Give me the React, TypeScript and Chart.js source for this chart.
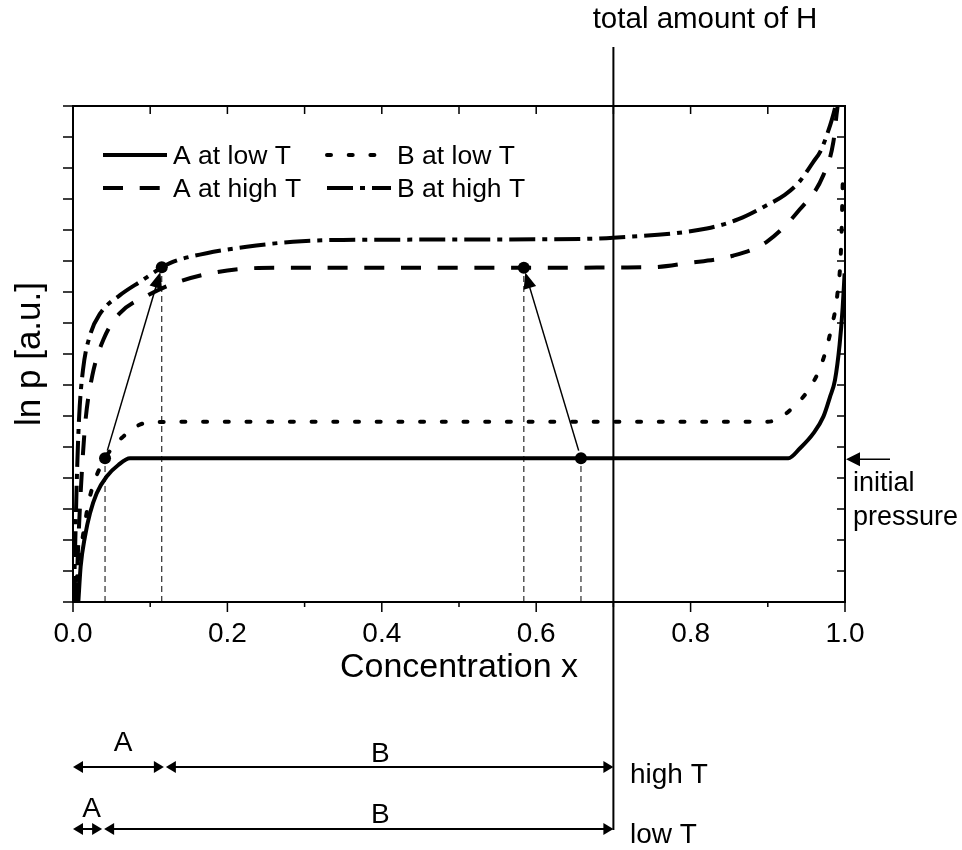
import React, { useEffect, useRef } from 'react';
import { Chart, registerables } from 'chart.js';
Chart.register(...registerables);

// ---- data ----
const A_LOW_X = [0.0069, 0.0099, 0.0155, 0.022, 0.0307, 0.0436, 0.0587, 0.0738, 0.3, 0.6, 0.9266, 0.9417, 0.959, 0.972, 0.9806, 0.987, 0.993, 0.997, 0.9995];
const A_LOW_Y = [0, 1.14, 2.11, 2.86, 3.51, 4.05, 4.42, 4.635, 4.635, 4.635, 4.635, 4.96, 5.44, 5.98, 6.62, 7.16, 8.3, 9.5, 10.6];

const B_LOW_X = [0.002, 0.006, 0.0113, 0.0155, 0.0198, 0.0285, 0.0415, 0.063, 0.093, 0.12, 0.15, 0.5, 0.9, 0.915, 0.9266, 0.9525, 0.97, 0.982, 0.99, 0.995, 0.9975];
const B_LOW_Y = [0, 1.0, 1.89, 2.54, 3.18, 3.94, 4.635, 5.29, 5.77, 5.81, 5.815, 5.815, 5.815, 5.93, 6.14, 6.84, 7.7, 8.8, 9.9, 11.5, 14.0];

const A_HIGH_X = [0.004, 0.007, 0.011, 0.016, 0.025, 0.04, 0.06, 0.0975, 0.1256, 0.168, 0.216, 0.264, 0.5, 0.75, 0.795, 0.855, 0.8986, 0.941, 0.972, 0.985, 0.989, 0.992];
const A_HIGH_Y = [0, 2, 4, 5.8, 7.3, 8.5, 9.3, 9.9, 10.23, 10.55, 10.74, 10.78, 10.78, 10.8, 10.93, 11.17, 11.62, 12.65, 13.77, 14.85, 15.71, 16.3];

const B_HIGH_X = [0.001, 0.003, 0.005, 0.008, 0.013, 0.022, 0.035, 0.0609, 0.0868, 0.1256, 0.173, 0.225, 0.285, 0.35, 0.62, 0.7, 0.821, 0.862, 0.8986, 0.922, 0.941, 0.959, 0.968, 0.978, 0.987, 0.99];
const B_HIGH_Y = [0, 2, 4, 6, 7.5, 8.6, 9.3, 9.9, 10.33, 10.93, 11.25, 11.46, 11.62, 11.68, 11.7, 11.75, 12.05, 12.35, 12.8, 13.13, 13.56, 14.2, 14.53, 15.17, 15.93, 16.3];

const MARKER_X = [0.0415, 0.115, 0.584, 0.658];
const MARKER_Y = [4.635, 10.8, 10.78, 4.635];
const ARROW_FROM = [0, 3];
const ARROW_TO = [1, 2];

const SERIES_NAMES = ['A at low T', 'B at low T', 'A at high T', 'B at high T'];
const X_TICK_VALUES = [0, 0.1, 0.2, 0.3, 0.4, 0.5, 0.6, 0.7, 0.8, 0.9, 1.0];
const X_TICK_LABELS = ['0.0', '', '0.2', '', '0.4', '', '0.6', '', '0.8', '', '1.0'];
const Y_TICK_VALUES = [0, 1, 2, 3, 4, 5, 6, 7, 8, 9, 10, 11, 12, 13, 14, 15, 16];

const TOTAL_H = 0.7;
const INITIAL_PRESSURE = 4.635;
const HIGH_T_BOUNDS = [0, 0.119, 0.7];
const LOW_T_BOUNDS = [0, 0.039, 0.7];
const HIGH_T_LABEL_X = [0.065, 0.398];
const LOW_T_LABEL_X = [0.024, 0.398];
const PHASE_NAMES = ['A', 'B'];

const FONT = '"Liberation Sans", Arial, Helvetica, sans-serif';

const pts = (xs: number[], ys: number[]) => xs.map((x, i) => ({ x, y: ys[i] }));

function arrowHead(ctx: CanvasRenderingContext2D, tx: number, ty: number, fx: number, fy: number, len: number, half: number) {
  const ang = Math.atan2(ty - fy, tx - fx);
  ctx.beginPath();
  ctx.moveTo(tx, ty);
  ctx.lineTo(tx - len * Math.cos(ang) + half * Math.sin(ang), ty - len * Math.sin(ang) - half * Math.cos(ang));
  ctx.lineTo(tx - len * Math.cos(ang) - half * Math.sin(ang), ty - len * Math.sin(ang) + half * Math.cos(ang));
  ctx.closePath();
  ctx.fill();
}

function doubleArrow(ctx: CanvasRenderingContext2D, x1: number, x2: number, y: number) {
  ctx.lineWidth = 2;
  ctx.beginPath();
  ctx.moveTo(x1 + 6, y);
  ctx.lineTo(x2 - 6, y);
  ctx.stroke();
  arrowHead(ctx, x1, y, x2, y, 10, 6);
  arrowHead(ctx, x2, y, x1, y, 10, 6);
}

const decorPlugin = {
  id: 'decor',
  afterDraw(chart: any) {
    const ctx: CanvasRenderingContext2D = chart.ctx;
    const xs = chart.scales.x;
    const ys = chart.scales.y;
    const { left, right, top, bottom } = chart.chartArea;
    ctx.save();
    ctx.strokeStyle = '#000';
    ctx.fillStyle = '#000';
    ctx.setLineDash([]);
    // frame
    ctx.lineWidth = 2;
    ctx.strokeRect(left, top, right - left, bottom - top);
    // ticks
    ctx.lineWidth = 1.5;
    X_TICK_VALUES.forEach((v, i) => {
      const px = xs.getPixelForValue(v);
      const major = i % 2 === 0;
      ctx.beginPath();
      ctx.moveTo(px, bottom);
      ctx.lineTo(px, bottom + (major ? 10 : 5));
      ctx.moveTo(px, top);
      ctx.lineTo(px, top + 8);
      ctx.stroke();
    });
    Y_TICK_VALUES.forEach((v) => {
      const py = ys.getPixelForValue(v);
      ctx.beginPath();
      ctx.moveTo(left, py);
      ctx.lineTo(left - 10, py);
      ctx.moveTo(right, py);
      ctx.lineTo(right - 8, py);
      ctx.stroke();
    });

    // arrows between markers
    ctx.lineWidth = 1.5;
    ARROW_FROM.forEach((fi, k) => {
      const ti = ARROW_TO[k];
      const fx = xs.getPixelForValue(MARKER_X[fi]);
      const fy = ys.getPixelForValue(MARKER_Y[fi]);
      const tx0 = xs.getPixelForValue(MARKER_X[ti]);
      const ty0 = ys.getPixelForValue(MARKER_Y[ti]);
      const d = Math.hypot(tx0 - fx, ty0 - fy);
      const ux = (tx0 - fx) / d, uy = (ty0 - fy) / d;
      const sx = fx + ux * 8, sy = fy + uy * 8;
      const tx = tx0 - ux * 5, ty = ty0 - uy * 5;
      ctx.beginPath();
      ctx.moveTo(sx, sy);
      ctx.lineTo(tx - ux * 12, ty - uy * 12);
      ctx.stroke();
      arrowHead(ctx, tx, ty, sx, sy, 16, 6.5);
    });

    // total amount of H line
    const hx = xs.getPixelForValue(TOTAL_H);
    ctx.lineWidth = 2;
    ctx.beginPath();
    ctx.moveTo(hx, 47);
    ctx.lineTo(hx, 830);
    ctx.stroke();
    ctx.font = `29.5px ${FONT}`;
    ctx.textAlign = 'center';
    ctx.textBaseline = 'alphabetic';
    ctx.fillText('total amount of H', 705, 28);

    // initial pressure
    const ipy = ys.getPixelForValue(INITIAL_PRESSURE) + 1;
    ctx.lineWidth = 1.5;
    ctx.beginPath();
    ctx.moveTo(890, ipy);
    ctx.lineTo(right + 10, ipy);
    ctx.stroke();
    arrowHead(ctx, right + 1, ipy, 890, ipy, 14, 7);
    ctx.textAlign = 'left';
    ctx.font = `27px ${FONT}`;
    ctx.fillText('initial', 853, 491);
    ctx.fillText('pressure', 853, 525);

    // phase extent arrows
    const rows = [
      { b: HIGH_T_BOUNDS, lx: HIGH_T_LABEL_X, y: 767, ly: [751, 762], name: 'high T', ny: 783 },
      { b: LOW_T_BOUNDS, lx: LOW_T_LABEL_X, y: 829, ly: [817, 823], name: 'low T', ny: 843 },
    ];
    rows.forEach((r) => {
      const p = r.b.map((v) => xs.getPixelForValue(v));
      doubleArrow(ctx, p[0], p[1] - 1, r.y);
      doubleArrow(ctx, p[1] + 1, p[2], r.y);
      ctx.font = `28px ${FONT}`;
      ctx.textAlign = 'center';
      PHASE_NAMES.forEach((n, i) => {
        ctx.fillText(n, xs.getPixelForValue(r.lx[i]), r.ly[i]);
      });
      ctx.textAlign = 'left';
      ctx.fillText(r.name, 630, r.ny);
    });

    // legend
    const slots = [
      { x: 103, y: 155 },
      { x: 327, y: 155 },
      { x: 103, y: 188 },
      { x: 327, y: 188 },
    ];
    ctx.font = `26.5px ${FONT}`;
    ctx.textAlign = 'left';
    slots.forEach((s, i) => {
      const ds = chart.data.datasets[i];
      ctx.lineWidth = ds.borderWidth;
      ctx.lineCap = ds.borderCapStyle || 'butt';
      ctx.setLineDash(ds.borderDash || []);
      ctx.beginPath();
      ctx.moveTo(s.x, s.y);
      ctx.lineTo(s.x + 64, s.y);
      ctx.stroke();
      ctx.setLineDash([]);
      ctx.lineCap = 'butt';
      ctx.fillText(SERIES_NAMES[i], s.x + 70, s.y + 8.5);
    });
    ctx.restore();
  },
};

export default function App() {
  const ref = useRef<HTMLCanvasElement | null>(null);
  useEffect(() => {
    document.body.style.margin = '0';
    const canvas = ref.current!;
    const curve = (name: string, xs: number[], ys: number[], dash: number[], cap: string) => ({
      label: name,
      data: pts(xs, ys),
      borderColor: '#000',
      backgroundColor: '#000',
      borderWidth: 4,
      borderDash: dash,
      borderCapStyle: cap,
      pointRadius: 0,
      cubicInterpolationMode: 'monotone',
      fill: false,
    });
    const guide = (i: number) => ({
      label: 'guide' + i,
      data: [{ x: MARKER_X[i], y: 0 }, { x: MARKER_X[i], y: MARKER_Y[i] }],
      borderColor: '#000',
      borderWidth: 1,
      borderDash: [6, 4],
      pointRadius: 0,
      fill: false,
    });
    const chart = new Chart(canvas, {
      type: 'line',
      data: {
        datasets: [
          curve(SERIES_NAMES[0], A_LOW_X, A_LOW_Y, [], 'butt'),
          curve(SERIES_NAMES[1], B_LOW_X, B_LOW_Y, [4, 17.7], 'round'),
          curve(SERIES_NAMES[2], A_HIGH_X, A_HIGH_Y, [20, 16.7], 'butt'),
          curve(SERIES_NAMES[3], B_HIGH_X, B_HIGH_Y, [26, 7, 5, 7], 'butt'),
          guide(0), guide(1), guide(2), guide(3),
          {
            label: 'markers',
            data: pts(MARKER_X, MARKER_Y),
            showLine: false,
            pointRadius: 6,
            pointBackgroundColor: '#000',
            pointBorderColor: '#000',
            pointBorderWidth: 0,
          },
        ] as any,
      },
      options: {
        responsive: false,
        animation: false,
        events: [],
        layout: { padding: { left: 0, right: 117, top: 106, bottom: 148 } },
        plugins: { legend: { display: false }, tooltip: { enabled: false } },
        scales: {
          x: {
            type: 'linear',
            min: 0,
            max: 1,
            afterFit: (s: any) => { s.height = 100; },
            afterBuildTicks: (s: any) => { s.ticks = X_TICK_VALUES.map((v) => ({ value: v })); },
            ticks: {
              autoSkip: false,
              maxRotation: 0,
              color: '#000',
              padding: 15,
              font: { family: FONT, size: 28 },
              callback: (_v: any, i: number) => X_TICK_LABELS[i],
            },
            grid: { display: false, drawTicks: false },
            border: { display: false },
            title: {
              display: true,
              text: 'Concentration x',
              color: '#000',
              font: { family: FONT, size: 34 },
              padding: { top: 0, bottom: 14 },
            },
          },
          y: {
            type: 'linear',
            min: 0,
            max: 16,
            afterFit: (s: any) => { s.width = 73; },
            ticks: { display: false },
            grid: { display: false, drawTicks: false },
            border: { display: false },
            title: {
              display: true,
              text: 'ln p [a.u.]',
              color: '#000',
              font: { family: FONT, size: 35 },
              padding: { top: 9, bottom: 0 },
            },
          },
        },
      } as any,
      plugins: [decorPlugin],
    });
    return () => chart.destroy();
  }, []);
  return <canvas ref={ref} width={962} height={850} style={{ display: 'block' }} />;
}
